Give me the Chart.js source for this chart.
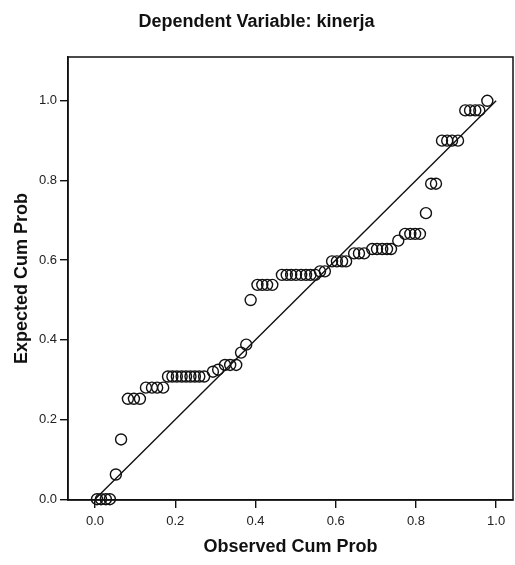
<!DOCTYPE html>
<html>
<head>
<meta charset="utf-8">
<script src="https://cdn.jsdelivr.net/npm/chart.js@4/dist/chart.umd.min.js"></script>
<style>
  body { margin: 0; background: #fff; }
</style>
</head>
<body>
<canvas id="pp-plot" width="515" height="565"></canvas>
<script>
// Observed cumulative probability (x) and expected cumulative probability (y)
var observedCum = [
  0.005, 0.015, 0.027, 0.037, 0.052, 0.065,
  0.082, 0.097, 0.112,
  0.127, 0.142, 0.155, 0.170,
  0.182, 0.193, 0.204, 0.216, 0.227, 0.238, 0.249, 0.260, 0.272,
  0.294, 0.307, 0.324, 0.337, 0.352, 0.364, 0.377,
  0.388,
  0.405, 0.417, 0.429, 0.442,
  0.466, 0.478, 0.489, 0.501, 0.514, 0.526, 0.537, 0.549,
  0.561, 0.573,
  0.591, 0.603, 0.616, 0.626,
  0.646, 0.658, 0.671,
  0.691, 0.703, 0.716, 0.728, 0.738,
  0.756,
  0.773, 0.786, 0.798, 0.810,
  0.825, 0.838, 0.850,
  0.865, 0.878, 0.890, 0.905,
  0.923, 0.935, 0.948, 0.958,
  0.978
];
var expectedCum = [
  0.000, 0.000, 0.000, 0.000, 0.062, 0.150,
  0.252, 0.252, 0.252,
  0.280, 0.280, 0.280, 0.280,
  0.308, 0.308, 0.308, 0.308, 0.308, 0.308, 0.308, 0.308, 0.308,
  0.320, 0.325, 0.337, 0.337, 0.337, 0.368, 0.388,
  0.500,
  0.538, 0.538, 0.538, 0.538,
  0.563, 0.563, 0.563, 0.563, 0.563, 0.563, 0.563, 0.563,
  0.572, 0.572,
  0.597, 0.597, 0.597, 0.597,
  0.617, 0.617, 0.617,
  0.628, 0.628, 0.628, 0.628, 0.628,
  0.649,
  0.666, 0.666, 0.666, 0.666,
  0.718, 0.792, 0.792,
  0.900, 0.900, 0.900, 0.900,
  0.976, 0.976, 0.976, 0.976,
  1.000
];
// reference diagonal
var refLineX = [0, 1];
var refLineY = [0, 1];
var axisTicks = [0, 0.2, 0.4, 0.6, 0.8, 1.0];

var FONT = "'Liberation Sans', Arial, sans-serif";

var points = observedCum.map(function(x, i){ return {x: x, y: expectedCum[i]}; });
var diag = refLineX.map(function(x, i){ return {x: x, y: refLineY[i]}; });

// box round the plot area
var frame = {
  id: 'frame',
  afterDraw: function(chart){
    var a = chart.chartArea, ctx = chart.ctx;
    ctx.save();
    ctx.strokeStyle = '#111';
    ctx.lineWidth = 1.5;
    ctx.strokeRect(a.left, a.top, a.right - a.left, a.bottom - a.top);
    ctx.restore();
  }
};

function setTicks(scale){
  scale.ticks = axisTicks.map(function(v){ return {value: v}; });
}

new Chart(document.getElementById('pp-plot').getContext('2d'), {
  type: 'scatter',
  data: {
    datasets: [{
      data: points,
      pointStyle: 'circle',
      pointRadius: 5.5,
      pointHoverRadius: 5.5,
      pointBorderWidth: 1.4,
      pointBorderColor: '#111',
      pointBackgroundColor: 'rgba(0,0,0,0)',
      clip: false
    }, {
      data: diag,
      showLine: true,
      borderColor: '#111',
      borderWidth: 1.4,
      pointRadius: 0,
      fill: false
    }]
  },
  options: {
    responsive: false,
    animation: false,
    layout: { autoPadding: false, padding: { left: 0, right: 2, top: 0, bottom: 0 } },
    plugins: {
      legend: { display: false },
      tooltip: { enabled: false },
      title: {
        display: true,
        text: 'Dependent Variable: kinerja',
        color: '#111',
        font: { family: FONT, size: 18, weight: 'bold' },
        padding: { top: 11, bottom: 24.4 }
      }
    },
    scales: {
      x: {
        type: 'linear',
        min: -0.0673,
        max: 1.042,
        afterBuildTicks: setTicks,
        afterFit: function(s){ s.height = 65; s.paddingLeft = 0; s.paddingRight = 0; },
        grid: { drawOnChartArea: false, tickLength: 8, color: '#111', lineWidth: 1.4 },
        border: { display: true, color: '#111', width: 1.5 },
        ticks: {
          color: '#222',
          padding: 6,
          font: { family: FONT, size: 13 },
          callback: function(v){ return v.toFixed(1); }
        },
        title: {
          display: true,
          text: 'Observed Cum Prob',
          color: '#111',
          font: { family: FONT, size: 18, weight: 'bold' },
          padding: { top: 0, bottom: 7.2 }
        }
      },
      y: {
        type: 'linear',
        min: -0.002,
        max: 1.11,
        afterBuildTicks: setTicks,
        afterFit: function(s){ s.width = 68; s.paddingTop = 0; s.paddingBottom = 0; },
        grid: { drawOnChartArea: false, tickLength: 8, color: '#111', lineWidth: 1.4 },
        border: { display: true, color: '#111', width: 1.5 },
        ticks: {
          color: '#222',
          padding: 3,
          font: { family: FONT, size: 13 },
          callback: function(v){ return v.toFixed(1); }
        },
        title: {
          display: true,
          text: 'Expected Cum Prob',
          color: '#111',
          font: { family: FONT, size: 18, weight: 'bold' },
          padding: { top: 11.2, bottom: 0 }
        }
      }
    }
  },
  plugins: [frame]
});
</script>
</body>
</html>
